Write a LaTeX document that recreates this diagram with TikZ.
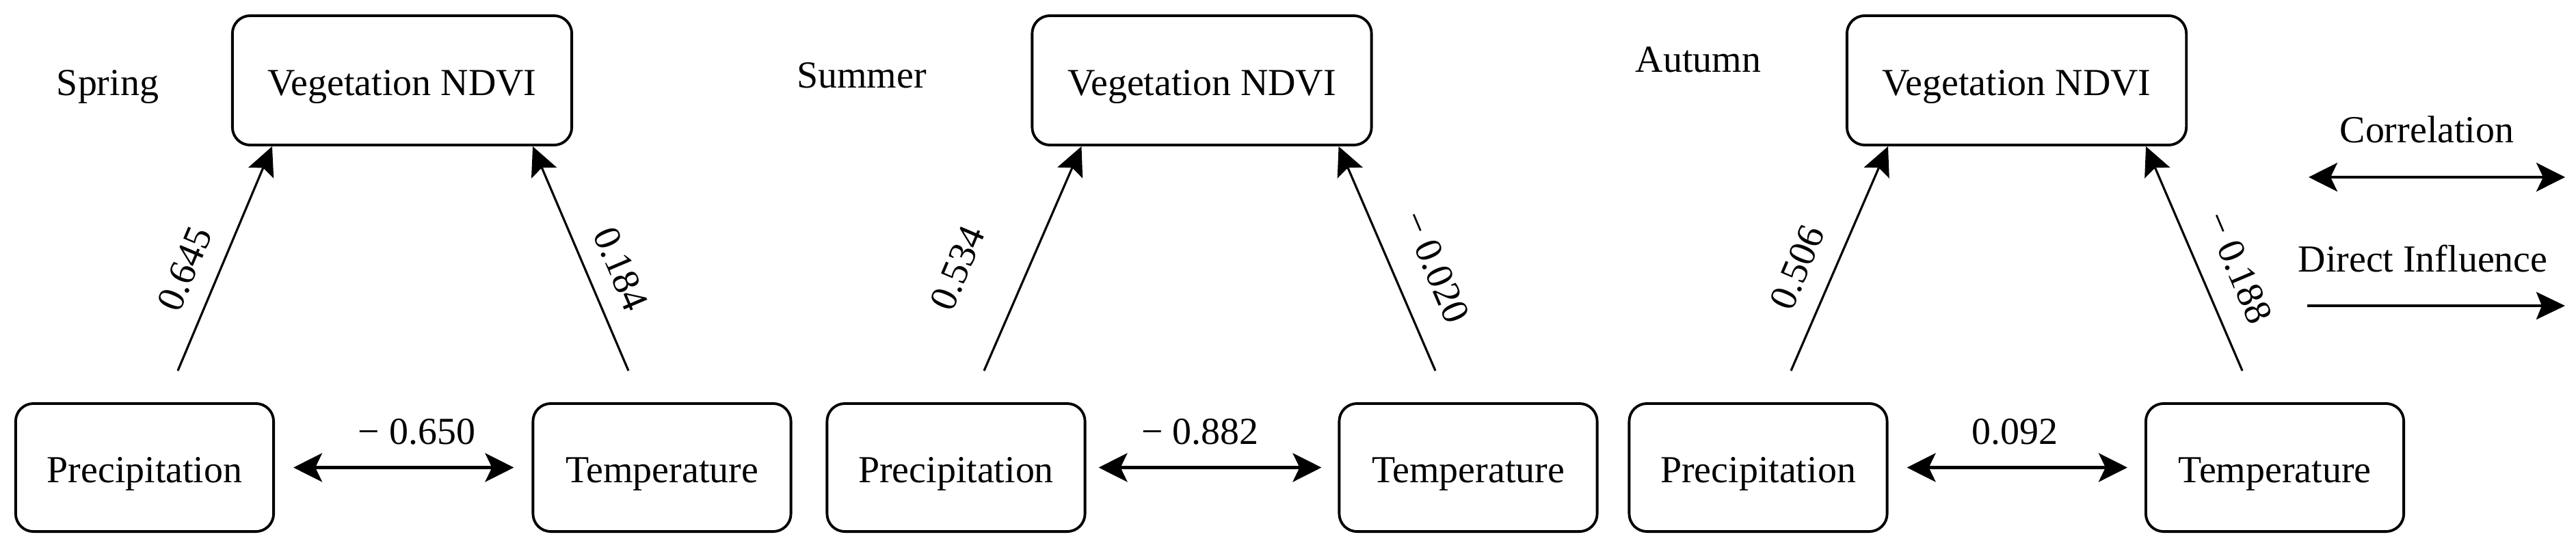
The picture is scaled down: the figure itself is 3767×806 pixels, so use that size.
\documentclass[tikz,border=0pt]{standalone}
\usepackage{fontspec}
\setmainfont{Liberation Serif}
\usetikzlibrary{arrows.meta}
\begin{document}
\begin{tikzpicture}[x=0.01cm,y=-0.01cm,
  font=\fontsize{15.9}{19}\selectfont,
  box/.style={draw,line width=1.1pt,rounded corners=0.26cm,text height=0.5cm,text depth=0.07cm,inner sep=0pt},
  vegbox/.style={box,minimum width=4.96cm,minimum height=1.89cm},
  varbox/.style={box,minimum width=3.77cm,minimum height=1.87cm},
  corr/.style={line width=1.2pt,{Stealth[length=0.42cm,width=0.42cm,inset=0.1cm]}-{Stealth[length=0.42cm,width=0.42cm,inset=0.1cm]}},
  dinf/.style={line width=0.9pt,-{Stealth[length=0.42cm,width=0.4cm,inset=0.08cm]}},
  lab/.style={inner sep=0pt,anchor=base},
  slab/.style={inner sep=0pt,anchor=center}]
\useasboundingbox (0,0) rectangle (3767,806);

% ---------- Spring ----------
\node[lab] (sea1) at (157.5,139) {Spring};
\node[vegbox] (veg1) at (588,117.5) {Vegetation NDVI};
\node[varbox] (pre1) at (211.5,683.5) {Precipitation};
\node[varbox] (tem1) at (968,683.5) {Temperature};
\coordinate (sp1) at (260,542);
\coordinate (st1) at (919,542);
\draw[dinf] (sp1) -- ([xshift=0.60cm]veg1.south west);
\draw[dinf] (st1) -- ([xshift=-0.59cm]veg1.south east);
\draw[corr,shorten <=0.27cm,shorten >=0.26cm] (pre1.east) -- (tem1.west);
\node[slab,rotate=67] (l1a) at (270,393) {0.645};
\node[slab,rotate=-67] (l1b) at (908,393) {0.184};
\node[lab] (l1c) at (609.5,649) {− 0.650};

% ---------- Summer ----------
\node[lab] (sea2) at (1260,128.5) {Summer};
\node[vegbox] (veg2) at (1757.5,117.5) {Vegetation NDVI};
\node[varbox] (pre2) at (1398,683.5) {Precipitation};
\node[varbox] (tem2) at (2147,683.5) {Temperature};
\coordinate (sp2) at (1439,542);
\coordinate (st2) at (2099,542);
\draw[dinf] (sp2) -- ([xshift=0.74cm]veg2.south west);
\draw[dinf] (st2) -- ([xshift=-0.50cm]veg2.south east);
\draw[corr,shorten <=0.18cm,shorten >=0.24cm] (pre2.east) -- (tem2.west);
\node[slab,rotate=67] (l2a) at (1400,392) {0.534};
\node[slab,rotate=-67] (l2b) at (2100,390) {− 0.020};
\node[lab] (l2c) at (1755,649) {− 0.882};

% ---------- Autumn ----------
\node[lab] (sea3) at (2483.5,105) {Autumn};
\node[vegbox] (veg3) at (2949,117.5) {Vegetation NDVI};
\node[varbox] (pre3) at (2571,683.5) {Precipitation};
\node[varbox] (tem3) at (3326.5,683.5) {Temperature};
\coordinate (sp3) at (2619,542);
\coordinate (st3) at (3279,542);
\draw[dinf] (sp3) -- ([xshift=0.62cm]veg3.south west);
\draw[dinf] (st3) -- ([xshift=-0.61cm]veg3.south east);
\draw[corr,shorten <=0.27cm,shorten >=0.25cm] (pre3.east) -- (tem3.west);
\node[slab,rotate=67] (l3a) at (2628,391) {0.506};
\node[slab,rotate=-67] (l3b) at (3274,391) {− 0.188};
\node[lab] (l3c) at (2946.5,649) {0.092};

% ---------- Legend ----------
\node[lab] (leg1) at (3549,208) {Correlation};
\node[lab] (leg2) at (3543,397) {Direct Influence};
\coordinate (c1a) at (3376,259);
\coordinate (c1b) at (3751,259);
\coordinate (d1a) at (3374,447);
\coordinate (d1b) at (3751,447);
\draw[corr] (c1a) -- (c1b);
\draw[dinf,line width=1.2pt] (d1a) -- (d1b);
\end{tikzpicture}
\end{document}
